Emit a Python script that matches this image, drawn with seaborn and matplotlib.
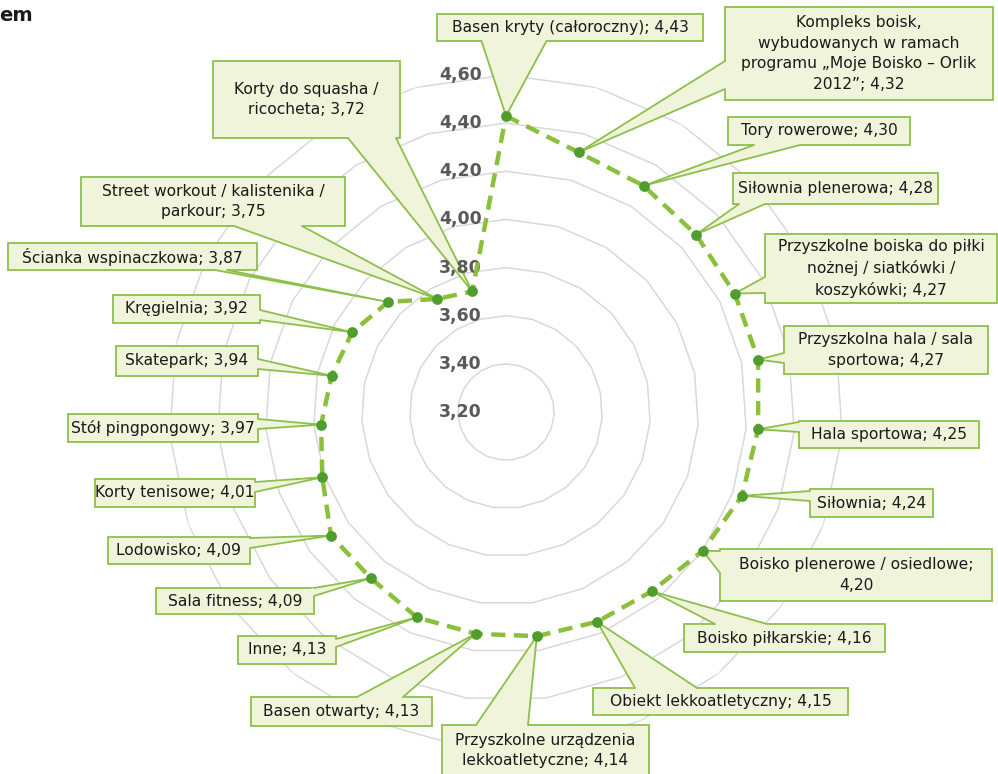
import numpy as np
import pandas as pd
import matplotlib
matplotlib.use("Agg")
import matplotlib.pyplot as plt
import seaborn as sns
from matplotlib.patches import Rectangle, Polygon
from matplotlib.lines import Line2D
from matplotlib.transforms import IdentityTransform, ScaledTranslation

# ---------------- data ----------------
categories = [
    "Basen kryty (całoroczny)",
    "Kompleks boisk, wybudowanych w ramach programu „Moje Boisko – Orlik 2012”",
    "Tory rowerowe",
    "Siłownia plenerowa",
    "Przyszkolne boiska do piłki nożnej / siatkówki / koszykówki",
    "Przyszkolna hala / sala sportowa",
    "Hala sportowa",
    "Siłownia",
    "Boisko plenerowe / osiedlowe",
    "Boisko piłkarskie",
    "Obiekt lekkoatletyczny",
    "Przyszkolne urządzenia lekkoatletyczne",
    "Basen otwarty",
    "Inne",
    "Sala fitness",
    "Lodowisko",
    "Korty tenisowe",
    "Stół pingpongowy",
    "Skatepark",
    "Kręgielnia",
    "Ścianka wspinaczkowa",
    "Street workout / kalistenika / parkour",
    "Korty do squasha / ricocheta",
]
values = [4.43, 4.32, 4.30, 4.28, 4.27, 4.27, 4.25, 4.24, 4.20, 4.16, 4.15,
          4.14, 4.13, 4.13, 4.09, 4.09, 4.01, 3.97, 3.94, 3.92, 3.87, 3.75, 3.72]
label_texts = [
    "Basen kryty (całoroczny); 4,43",
    "Kompleks boisk,\nwybudowanych w ramach\nprogramu „Moje Boisko – Orlik\n2012”; 4,32",
    "Tory rowerowe; 4,30",
    "Siłownia plenerowa; 4,28",
    "Przyszkolne boiska do piłki\nnożnej / siatkówki /\nkoszykówki; 4,27",
    "Przyszkolna hala / sala\nsportowa; 4,27",
    "Hala sportowa; 4,25",
    "Siłownia; 4,24",
    "Boisko plenerowe / osiedlowe;\n4,20",
    "Boisko piłkarskie; 4,16",
    "Obiekt lekkoatletyczny; 4,15",
    "Przyszkolne urządzenia\nlekkoatletyczne; 4,14",
    "Basen otwarty; 4,13",
    "Inne; 4,13",
    "Sala fitness; 4,09",
    "Lodowisko; 4,09",
    "Korty tenisowe; 4,01",
    "Stół pingpongowy; 3,97",
    "Skatepark; 3,94",
    "Kręgielnia; 3,92",
    "Ścianka wspinaczkowa; 3,87",
    "Street workout / kalistenika /\nparkour; 3,75",
    "Korty do squasha /\nricocheta; 3,72",
]
r_ticks = [3.2, 3.4, 3.6, 3.8, 4.0, 4.2, 4.4, 4.6]
r_tick_labels = ["3,20", "3,40", "3,60", "3,80", "4,00", "4,20", "4,40", "4,60"]
title_fragment = "em"

# ---------------- layout (pixels, top-left origin) ----------------
W, H = 998, 774
CX, CY, RAD = 506, 412, 337
# box (x0, y0, x1, y1), side where the pointer leaves, position on that side, base length
callout_layout = [
    ((437, 14, 703, 41), "b", 514, 65),
    ((725, 7, 993, 100), "l", 75, 28),
    ((728, 117, 910, 145), "b", 777, 46),
    ((733, 173, 938, 204), "b", 752, 26),
    ((765, 234, 997, 303), "l", 285, 16),
    ((784, 326, 988, 374), "l", 358, 10),
    ((799, 421, 979, 448), "l", 427, 10),
    ((810, 489, 933, 517), "l", 496, 10),
    ((720, 549, 992, 601), "l", 562, 22),
    ((684, 624, 885, 652), "t", 741, 52),
    ((593, 688, 848, 715), "t", 666, 62),
    ((442, 725, 649, 776), "t", 502, 52),
    ((251, 697, 432, 726), "t", 380, 46),
    ((238, 636, 336, 664), "r", 643, 8),
    ((156, 588, 314, 614), "r", 592, 8),
    ((108, 537, 250, 564), "r", 543, 10),
    ((95, 479, 255, 507), "r", 487, 10),
    ((68, 414, 258, 442), "r", 424, 10),
    ((116, 346, 258, 376), "r", 364, 10),
    ((113, 295, 260, 323), "r", 315, 10),
    ((8, 243, 257, 270), "b", 221, 12),
    ((81, 177, 345, 226), "b", 268, 68),
    ((213, 61, 400, 138), "b", 372, 48),
]

LINE = "#8cc03c"
MARK = "#4e9d2d"
FILL = "#f0f4da"
EDGE = "#8dc04a"
GRID = "#d9d9d9"
TXT = "#1a1a1a"

sns.set_theme(style="white")
plt.rcParams["font.family"] = ["DejaVu Sans"]

fig = plt.figure(figsize=(W / 100, H / 100), dpi=100)
fig.patch.set_facecolor("white")
ax = fig.add_axes([(CX - RAD) / W, (H - CY - RAD) / H, 2 * RAD / W, 2 * RAD / H],
                  projection="polar")
ax.set_theta_zero_location("N")
ax.set_theta_direction(-1)
ax.set_ylim(r_ticks[0], r_ticks[-1])
ax.grid(False)
ax.spines["polar"].set_visible(False)
ax.set_xticks([])
ax.set_yticks([])
ax.patch.set_alpha(0)

n = len(values)
theta = 2 * np.pi * np.arange(n) / n
theta_closed = np.append(theta, 2 * np.pi)

# polygon gridlines
for lvl in r_ticks[1:]:
    ax.plot(theta_closed, [lvl] * (n + 1), color=GRID, lw=1.1, zorder=1)

# radial tick labels
off = ax.transData + ScaledTranslation(-24 / 100, 0, fig.dpi_scale_trans)
for lvl, lab in zip(r_ticks, r_tick_labels):
    ax.text(0, lvl, lab, transform=off, ha="right", va="center",
            fontsize=12.5, fontweight="bold", color="#595959", zorder=6)

# series
df = pd.DataFrame({"theta": theta_closed, "value": values + [values[0]]})
sns.lineplot(data=df, x="theta", y="value", sort=False, estimator=None, ax=ax,
             color=LINE, lw=3.2, linestyle=(0, (3.2, 1.9)), zorder=7)
sns.scatterplot(x=theta, y=values, ax=ax, color=MARK, s=60, linewidth=0, zorder=8)
ax.set_xlabel("")
ax.set_ylabel("")

# callouts
ident = IdentityTransform()
for i, ((x0, y0, x1, y1), side, pos, L) in enumerate(callout_layout):
    tip = ax.transData.transform((theta[i], values[i]))
    rect = Rectangle((x0, H - y1), x1 - x0, y1 - y0, transform=ident,
                     fc=FILL, ec=EDGE, lw=1.3, zorder=4, clip_on=False)
    ax.add_patch(rect)
    if side == "b":
        b1 = np.array([pos - L / 2, H - y1]); b2 = np.array([pos + L / 2, H - y1]); inw = np.array([0, 1])
    elif side == "t":
        b1 = np.array([pos - L / 2, H - y0]); b2 = np.array([pos + L / 2, H - y0]); inw = np.array([0, -1])
    elif side == "l":
        b1 = np.array([x0, H - (pos - L / 2)]); b2 = np.array([x0, H - (pos + L / 2)]); inw = np.array([1, 0])
    else:
        b1 = np.array([x1, H - (pos - L / 2)]); b2 = np.array([x1, H - (pos + L / 2)]); inw = np.array([-1, 0])
    poly = Polygon([b1 + inw * 2.5, b1, tip, b2, b2 + inw * 2.5], closed=True,
                   transform=ident, fc=FILL, ec="none", zorder=5, clip_on=False)
    ax.add_patch(poly)
    ln = Line2D([b1[0], tip[0], b2[0]], [b1[1], tip[1], b2[1]], transform=ident,
                color=EDGE, lw=1.3, zorder=5.5, clip_on=False, solid_joinstyle="round")
    ax.add_line(ln)
    ax.text((x0 + x1) / 2, H - (y0 + y1) / 2, label_texts[i], transform=ident,
            ha="center", va="center", multialignment="center", fontsize=11.2,
            color=TXT, zorder=9, linespacing=1.45, clip_on=False)

fig.text(-1 / W, 1 - 21 / H, title_fragment, fontsize=14, fontweight="bold",
         ha="left", va="baseline", color=TXT)

fig.savefig("out.png", dpi=100)
